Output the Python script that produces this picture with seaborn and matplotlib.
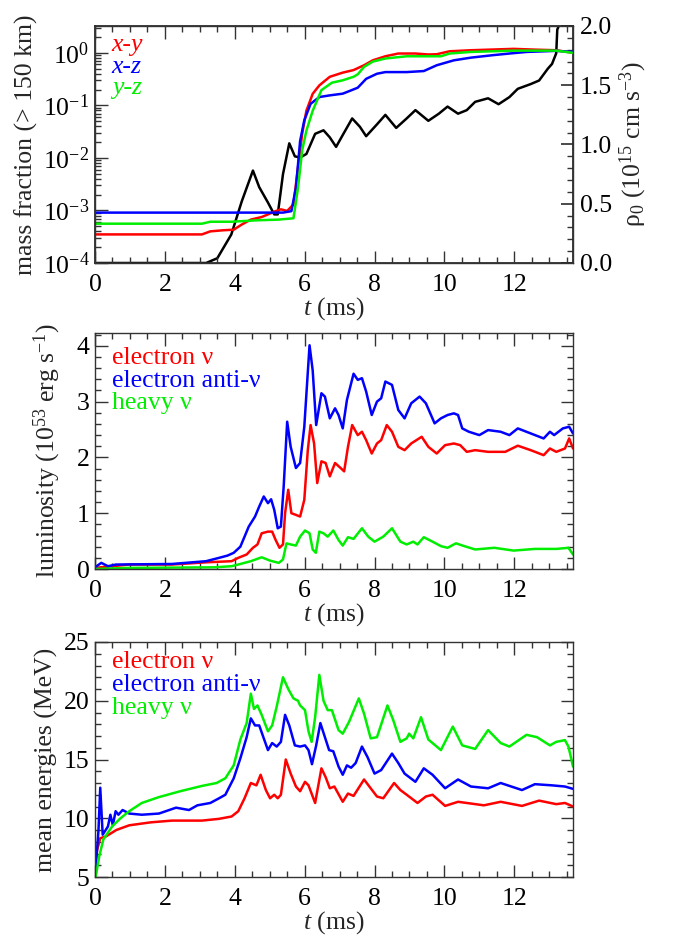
import numpy as np
import pandas as pd
import matplotlib
matplotlib.use("Agg")
import matplotlib.pyplot as plt
import seaborn as sns
from matplotlib.ticker import MultipleLocator, LogLocator, NullFormatter, FormatStrFormatter

# ---------------- data: panel 1 (mass fraction, central density) ----------------
t_xy = [0, 3.06, 3.30, 3.67, 3.97, 4.20, 4.46, 4.77, 4.95, 5.13, 5.32, 5.50, 5.68, 5.81, 5.93,
        6.05, 6.23, 6.42, 6.72, 7.09, 7.40, 7.70, 7.95, 8.31, 8.68, 9.17, 9.54, 9.78, 10.15,
        10.76, 11.98, 12.59, 13.2, 13.68]
mf_xy = [3.5e-4, 3.5e-4, 4.0e-4, 4.2e-4, 4.3e-4, 5.4e-4, 6.7e-4, 7.5e-4, 8.4e-4, 9.5e-4, 1.05e-3,
         9.8e-4, 1.3e-3, 6.6e-3, 2.9e-2, 7.9e-2, 0.166, 0.24, 0.35, 0.42, 0.47, 0.58, 0.72, 0.86,
         0.97, 0.97, 0.93, 0.94, 1.07, 1.12, 1.19, 1.15, 1.12, 1.0]

t_xz = [0, 5.38, 5.62, 5.75, 5.87, 5.99, 6.17, 6.42, 6.72, 7.09, 7.33, 7.52, 7.76, 8.07, 8.31,
        8.92, 9.41, 9.78, 10.27, 10.76, 11.37, 11.86, 12.35, 13.2, 13.68]
mf_xz = [9.1e-4, 9.1e-4, 9.7e-4, 2.7e-3, 2.1e-2, 5.2e-2, 0.107, 0.144, 0.155, 0.167, 0.193, 0.217,
         0.32, 0.40, 0.43, 0.43, 0.45, 0.58, 0.72, 0.81, 0.90, 0.97, 1.04, 1.09, 1.04]

t_yz = [0, 3.06, 3.3, 3.9, 4.65, 5.26, 5.68, 5.81, 5.93, 6.05, 6.23, 6.48, 6.78, 7.09, 7.40,
        7.52, 7.70, 7.95, 8.31, 8.92, 9.9, 10.15, 10.76, 11.98, 13.2, 13.68]
mf_yz = [5.6e-4, 5.6e-4, 6.1e-4, 6.1e-4, 6.5e-4, 6.7e-4, 7.1e-4, 2.7e-3, 1.4e-2, 3.3e-2, 7.9e-2,
         0.195, 0.27, 0.30, 0.35, 0.39, 0.54, 0.68, 0.78, 0.86, 0.86, 0.97, 1.04, 1.1, 1.1, 1.0]

t_rho = [0, 3.18, 3.5, 3.9, 4.2, 4.52, 4.7, 4.95, 5.13, 5.23, 5.38, 5.56, 5.72, 5.87, 6.05, 6.3,
         6.54, 6.72, 6.9, 7.09, 7.36, 7.58, 7.76, 8.07, 8.31, 8.62, 8.92, 9.17, 9.54, 9.84, 10.09,
         10.39, 10.64, 10.88, 11.25, 11.55, 11.86, 12.1, 12.47, 12.71, 12.96, 13.08, 13.2, 13.23,
         13.26]
rho = [0, 0, 0.04, 0.24, 0.52, 0.78, 0.64, 0.51, 0.41, 0.41, 0.75, 1.01, 0.9, 0.89, 0.92, 1.09,
       1.12, 1.06, 0.98, 1.08, 1.22, 1.15, 1.07, 1.17, 1.25, 1.14, 1.22, 1.29, 1.2, 1.26, 1.32,
       1.26, 1.29, 1.36, 1.39, 1.34, 1.40, 1.47, 1.51, 1.54, 1.64, 1.68, 1.77, 1.97, 1.99]

# ---------------- data: panel 2 (luminosity) ----------------
t_L_e = [0, 0.49, 0.98, 2.2, 3.18, 3.91, 4.1, 4.34, 4.52, 4.65, 4.77, 4.95, 5.07, 5.17, 5.28, 5.38,
         5.44, 5.53, 5.62, 5.75, 5.87, 5.99, 6.09, 6.17, 6.27, 6.36, 6.48, 6.6, 6.72, 6.87, 7.03,
         7.13, 7.24, 7.36, 7.52, 7.64, 7.76, 7.92, 8.07, 8.19, 8.35, 8.5, 8.68, 8.86, 9.05, 9.35,
         9.54, 9.78, 10.02, 10.27, 10.45, 10.64, 10.88, 11.25, 11.74, 12.1, 12.47, 12.84, 13.02,
         13.2, 13.45, 13.57, 13.68]
L_e = [0.02, 0.05, 0.08, 0.08, 0.12, 0.14, 0.2, 0.26, 0.38, 0.44, 0.64, 0.67, 0.67, 0.52, 0.38,
       0.44, 1.0, 1.42, 1.0, 0.97, 0.94, 1.24, 2.13, 2.58, 2.25, 1.54, 1.93, 1.9, 1.66, 1.9, 1.81,
       1.75, 2.19, 2.58, 2.4, 2.46, 2.31, 2.07, 2.25, 2.31, 2.58, 2.46, 2.19, 2.13, 2.25, 2.37,
       2.19, 2.07, 2.22, 2.25, 2.22, 2.1, 2.13, 2.1, 2.1, 2.21, 2.13, 2.04, 2.16, 2.1, 2.16, 2.34,
       2.16]

t_L_a = [0, 0.18, 0.37, 0.6, 2.2, 3.18, 3.55, 3.79, 3.97, 4.16, 4.4, 4.58, 4.7, 4.83, 4.95, 5.04,
         5.13, 5.23, 5.32, 5.4, 5.5, 5.6, 5.75, 5.87, 5.99, 6.14, 6.23, 6.33, 6.48, 6.58, 6.72,
         6.87, 6.97, 7.09, 7.21, 7.4, 7.52, 7.64, 7.76, 7.92, 8.07, 8.19, 8.31, 8.5, 8.68, 8.86,
         9.05, 9.29, 9.47, 9.72, 9.9, 10.09, 10.27, 10.39, 10.51, 10.7, 11.0, 11.25, 11.61, 11.86,
         12.1, 12.47, 12.84, 13.02, 13.14, 13.39, 13.57, 13.68]
L_a = [0.03, 0.11, 0.05, 0.08, 0.09, 0.14, 0.2, 0.24, 0.29, 0.4, 0.76, 0.94, 1.12, 1.3, 1.18, 1.25,
       1.06, 0.73, 0.76, 1.48, 2.64, 2.19, 1.81, 1.9, 2.55, 4.01, 3.56, 2.58, 3.15, 3.09, 2.7,
       2.88, 2.76, 2.52, 3.03, 3.5, 3.39, 3.42, 3.18, 2.76, 3.0, 3.06, 3.36, 3.3, 2.85, 2.7, 2.97,
       3.09, 2.97, 2.61, 2.7, 2.76, 2.79, 2.76, 2.52, 2.46, 2.4, 2.49, 2.46, 2.4, 2.52, 2.43, 2.34,
       2.46, 2.4, 2.52, 2.55, 2.43]

t_L_h = [0, 0.98, 3.42, 3.91, 4.16, 4.46, 4.77, 5.01, 5.26, 5.38, 5.48, 5.6, 5.75, 5.87, 6.01,
         6.14, 6.23, 6.32, 6.42, 6.54, 6.66, 6.82, 6.97, 7.09, 7.24, 7.4, 7.64, 7.82, 8.0, 8.25,
         8.5, 8.74, 8.92, 9.11, 9.23, 9.41, 9.66, 9.9, 10.09, 10.33, 10.57, 10.88, 11.43, 11.98,
         12.59, 13.2, 13.55, 13.68]
L_h = [0.0, 0.02, 0.03, 0.05, 0.09, 0.14, 0.21, 0.15, 0.11, 0.17, 0.46, 0.44, 0.42, 0.58, 0.69,
       0.64, 0.35, 0.29, 0.67, 0.64, 0.58, 0.69, 0.52, 0.42, 0.57, 0.54, 0.73, 0.58, 0.49, 0.58,
       0.73, 0.49, 0.44, 0.49, 0.44, 0.57, 0.49, 0.41, 0.38, 0.46, 0.41, 0.35, 0.38, 0.33, 0.36,
       0.36, 0.38, 0.26]

# ---------------- data: panel 3 (mean energies) ----------------
t_E_e = [0, 0.06, 0.15, 0.31, 0.61, 0.98, 1.59, 2.2, 3.06, 3.55, 3.91, 4.1, 4.28, 4.46, 4.62,
         4.74, 4.89, 5.01, 5.13, 5.23, 5.32, 5.46, 5.6, 5.75, 5.87, 6.01, 6.11, 6.3, 6.48, 6.6,
         6.72, 6.85, 7.09, 7.24, 7.4, 7.7, 7.89, 8.07, 8.25, 8.56, 8.74, 8.92, 9.23, 9.47, 9.66,
         10.02, 10.39, 10.64, 11.13, 11.61, 12.22, 12.71, 13.2, 13.45, 13.68]
E_e = [5.9, 7.3, 8.3, 8.45, 9.0, 9.4, 9.65, 9.8, 9.8, 9.95, 10.15, 10.6, 11.7, 13.0, 12.8, 13.7,
       12.4, 11.7, 12.0, 11.7, 12.0, 15.0, 13.8, 12.7, 12.3, 13.1, 12.8, 11.3, 14.25, 13.5, 12.55,
       12.7, 11.4, 12.1, 11.9, 13.3, 12.55, 11.85, 11.7, 13.0, 12.4, 12.0, 11.3, 11.85, 12.0,
       11.05, 11.4, 11.3, 11.1, 11.4, 11.05, 11.5, 11.2, 11.3, 11.0]

t_E_a = [0, 0.1, 0.15, 0.22, 0.37, 0.44, 0.51, 0.59, 0.67, 0.79, 0.98, 1.34, 1.83, 2.32, 2.69,
         2.93, 3.3, 3.55, 3.73, 3.97, 4.16, 4.34, 4.46, 4.58, 4.7, 4.83, 4.95, 5.07, 5.2, 5.32,
         5.44, 5.56, 5.72, 5.87, 6.01, 6.11, 6.21, 6.33, 6.45, 6.58, 6.7, 6.82, 6.97, 7.09, 7.21,
         7.33, 7.46, 7.64, 7.8, 8.0, 8.19, 8.5, 8.68, 8.86, 9.17, 9.41, 9.66, 10.02, 10.39, 10.76,
         11.25, 11.61, 12.22, 12.59, 13.08, 13.45, 13.68]
E_a = [5.0, 9.0, 12.6, 8.6, 9.3, 10.3, 9.4, 10.6, 10.3, 10.7, 10.4, 10.3, 10.4, 10.9, 10.7, 11.1,
       11.3, 11.7, 12.0, 13.4, 15.1, 16.9, 18.5, 17.9, 17.9, 16.8, 15.8, 16.4, 16.1, 16.5, 18.8,
       17.9, 16.2, 16.1, 16.2, 15.8, 14.6, 16.2, 18.1, 16.9, 15.8, 15.7, 14.4, 13.7, 14.5, 14.3,
       14.7, 16.1, 15.2, 13.8, 14.1, 15.5, 14.7, 13.8, 13.1, 14.25, 13.7, 12.55, 13.3, 12.7,
       12.55, 13.0, 12.4, 12.9, 12.8, 12.7, 12.5]

t_E_h = [0.02, 0.12, 0.24, 0.49, 0.73, 0.98, 1.34, 1.83, 2.44, 3.06, 3.48, 3.73, 3.97, 4.16,
         4.34, 4.46, 4.55, 4.65, 4.77, 4.95, 5.07, 5.2, 5.38, 5.53, 5.68, 5.81, 5.87, 6.01, 6.11,
         6.2, 6.3, 6.42, 6.54, 6.66, 6.78, 6.97, 7.09, 7.27, 7.55, 7.7, 7.89, 8.07, 8.37, 8.53,
         8.74, 8.92, 8.99, 9.11, 9.33, 9.54, 9.9, 10.24, 10.51, 10.88, 11.25, 11.61, 11.86, 12.35,
         12.65, 13.02, 13.2, 13.45, 13.55, 13.68]
E_h = [5.0, 6.75, 8.2, 9.3, 10.0, 10.6, 11.3, 11.8, 12.3, 12.75, 13.0, 13.4, 14.5, 16.7, 18.1,
       20.6, 19.3, 19.6, 18.8, 17.4, 17.9, 19.5, 22.0, 21.0, 20.2, 20.0, 19.6, 19.2, 17.4, 16.5,
       18.6, 22.2, 20.0, 19.2, 19.2, 17.5, 17.2, 18.2, 20.2, 18.9, 16.8, 16.9, 19.6, 18.4, 16.5,
       16.8, 17.2, 16.8, 18.6, 16.7, 15.8, 17.8, 16.2, 15.9, 17.5, 16.4, 16.1, 17.1, 16.9, 16.2,
       16.5, 16.65, 16.1, 14.4]

mf_labels = ["x-y", "x-z", "y-z"]
nu_labels = ["electron \u03bd", "electron anti-\u03bd", "heavy \u03bd"]
colors = ["#ff0000", "#0000ff", "#00ee00"]

# ---------------- style ----------------
sns.set_theme(style="ticks")
plt.rcParams["font.family"] = "serif"
plt.rcParams["font.serif"] = ["Liberation Serif", "DejaVu Serif"]
plt.rcParams["mathtext.fontset"] = "custom"
plt.rcParams["mathtext.rm"] = "Liberation Serif"
plt.rcParams["mathtext.it"] = "Liberation Serif:italic"
plt.rcParams["mathtext.bf"] = "Liberation Serif:bold"
FS = 18.5
plt.rcParams["font.size"] = FS

fig = plt.figure(figsize=(6.73, 9.36), dpi=100)
L, R = 95 / 673, 573 / 673
W = R - L
def box(top, bot):
    return [L, 1 - bot / 936, W, (bot - top) / 936]

ax1 = fig.add_axes(box(26, 263))
ax2 = fig.add_axes(box(333, 569))
ax3 = fig.add_axes(box(642, 877))

LW = 1.8
XMAX = 13.68
TC = "#333333"

def style_axis(ax, right=True):
    ax.set_xlim(0, XMAX)
    ax.xaxis.set_major_locator(MultipleLocator(2))
    ax.xaxis.set_minor_locator(MultipleLocator(0.5))
    ax.tick_params(which="both", direction="in", top=True, right=right, labelsize=FS,
                   width=1.0, colors=TC, labelcolor="black")
    ax.tick_params(which="major", length=9)
    ax.tick_params(which="minor", length=4.5)
    ax.tick_params(axis="x", which="major", pad=8)
    ax.tick_params(axis="y", which="major", pad=4)
    for s in ax.spines.values():
        s.set_linewidth(1.0)
        s.set_color(TC)
    ax.set_xlabel("$t$ (ms)", fontsize=FS, labelpad=-1)

def draw(ax, t, y, c):
    df = pd.DataFrame({"t": t, "y": y})
    sns.lineplot(data=df, x="t", y="y", ax=ax, color=c, linewidth=LW,
                 sort=False, estimator=None, legend=False)

# panel 1
ax1r = ax1.twinx()
draw(ax1r, t_rho, rho, "black")
draw(ax1, t_xy, mf_xy, colors[0])
draw(ax1, t_xz, mf_xz, colors[1])
draw(ax1, t_yz, mf_yz, colors[2])
ax1.set_zorder(ax1r.get_zorder() + 1)
ax1.patch.set_visible(False)
ax1.set_yscale("log")
ax1.set_ylim(1e-4, 3.24)
ax1.yaxis.set_major_locator(LogLocator(base=10, numticks=10))
ax1.yaxis.set_minor_locator(LogLocator(base=10, subs=np.arange(2, 10), numticks=20))
ax1.yaxis.set_minor_formatter(NullFormatter())
style_axis(ax1, right=False)
ax1.set_ylabel("mass fraction (> 150 km)", fontsize=FS, labelpad=3)
ax1r.set_xlim(0, XMAX)
ax1r.set_ylim(0, 2.0)
ax1r.yaxis.set_major_locator(MultipleLocator(0.5))
ax1r.yaxis.set_minor_locator(MultipleLocator(0.1))
ax1r.yaxis.set_major_formatter(FormatStrFormatter("%.1f"))
ax1r.tick_params(which="both", direction="in", labelsize=FS, colors=TC, labelcolor="black")
ax1r.tick_params(which="major", length=9, pad=5)
ax1r.tick_params(which="minor", length=4.5)
ax1r.set_ylabel("\u03c1$_0$ (10$^{15}$ cm s$^{-3}$)", fontsize=FS, labelpad=4)
ax1r.set_xlabel("")
for lab, c, yy in zip(mf_labels, colors, [0.92, 0.826, 0.737]):
    ax1.text(0.035, yy, lab, color=c, transform=ax1.transAxes, fontsize=FS,
             fontstyle="italic", va="center", ha="left")

# panel 2
draw(ax2, t_L_e, L_e, colors[0])
draw(ax2, t_L_a, L_a, colors[1])
draw(ax2, t_L_h, L_h, colors[2])
ax2.set_ylim(0, 4.23)
ax2.yaxis.set_major_locator(MultipleLocator(1))
ax2.yaxis.set_minor_locator(MultipleLocator(0.2))
style_axis(ax2)
ax2.set_ylabel("luminosity (10$^{53}$ erg s$^{-1}$)", fontsize=FS, labelpad=10)
for lab, c, yy in zip(nu_labels, colors, [0.894, 0.797, 0.703]):
    ax2.text(0.035, yy, lab, color=c, transform=ax2.transAxes, fontsize=FS,
             va="center", ha="left")

# panel 3
draw(ax3, t_E_e, E_e, colors[0])
draw(ax3, t_E_a, E_a, colors[1])
draw(ax3, t_E_h, E_h, colors[2])
ax3.set_ylim(5, 25)
ax3.yaxis.set_major_locator(MultipleLocator(5))
ax3.yaxis.set_minor_locator(MultipleLocator(1))
style_axis(ax3)
ax3.set_ylabel("mean energies (MeV)", fontsize=FS, labelpad=4)
for lab, c, yy in zip(nu_labels, colors, [0.915, 0.817, 0.72]):
    ax3.text(0.035, yy, lab, color=c, transform=ax3.transAxes, fontsize=FS,
             va="center", ha="left")

fig.savefig("out.png", dpi=100)
